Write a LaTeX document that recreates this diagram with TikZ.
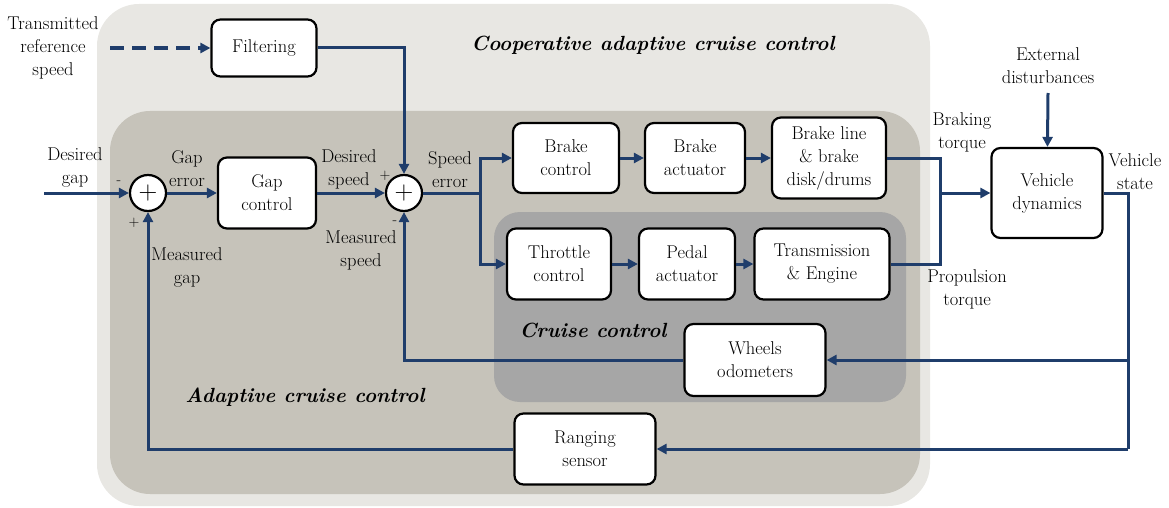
\documentclass[tikz,border=0pt]{standalone}
\usetikzlibrary{arrows.meta}
\definecolor{navy}{HTML}{1F3D6B}
\definecolor{caccgray}{HTML}{E8E7E3}
\definecolor{accgray}{HTML}{C6C3BA}
\definecolor{ccgray}{HTML}{A6A6A6}
\tikzset{
  blk/.style={draw,line width=2.2pt,fill=white,rounded corners=9pt,align=center,inner sep=0pt},
  sumnode/.style={draw,circle,line width=2.2pt,fill=white,minimum size=36pt,inner sep=0pt,font=\fontsize{26}{26}\selectfont},
  lbl/.style={align=center,inner sep=0pt},
  sign/.style={inner sep=0pt,font=\fontsize{15}{16}\selectfont},
  title/.style={inner sep=0pt,font=\fontsize{20.5}{25}\selectfont\bfseries\itshape},
  wire/.style={navy,line width=3pt},
  flow/.style={wire,-{Triangle[length=10pt,width=10pt]}},
}
\begin{document}
\begin{tikzpicture}[x=1pt,y=-1pt,font=\fontsize{18.5}{23}\selectfont]
\useasboundingbox (0,0) rectangle (1169,508);
%% nested control loops
\fill[caccgray,rounded corners=42pt] (97,4) rectangle (930,506);
\fill[accgray,rounded corners=40pt] (110,111) rectangle (920,494);
\fill[ccgray,rounded corners=26pt] (494,212) rectangle (906,402);
\node[title] at (653,45) {Cooperative adaptive cruise control};
\node[title] at (593,330) {Cruise control};
\node[title] at (305,397) {Adaptive cruise control};
%% blocks
\node[blk,minimum width=105pt,minimum height=57pt] (filt) at (264,48) {Filtering};
\node[sumnode] (sum1) at (148,193) {+};
\node[sumnode] (sum2) at (404,193) {+};
\node[blk,minimum width=98pt,minimum height=71pt] (gapc) at (267,193) {Gap\\control};
\node[blk,minimum width=106pt,minimum height=70pt] (brakec) at (566,158) {Brake\\control};
\node[blk,minimum width=100pt,minimum height=70pt] (brakea) at (695,158) {Brake\\actuator};
\node[blk,minimum width=114pt,minimum height=81pt] (brakel) at (829,158) {Brake line\\\& brake\\disk/drums};
\node[blk,minimum width=104pt,minimum height=71pt] (throttle) at (559,264) {Throttle\\control};
\node[blk,minimum width=96pt,minimum height=71pt] (pedal) at (687,264) {Pedal\\actuator};
\node[blk,minimum width=135pt,minimum height=71pt] (trans) at (822,264) {Transmission\\\& Engine};
\node[blk,minimum width=111pt,minimum height=90pt] (veh) at (1047,193) {Vehicle\\dynamics};
\node[blk,minimum width=141pt,minimum height=72pt] (wheel) at (755,360) {Wheels\\odometers};
\node[blk,minimum width=141pt,minimum height=71pt] (rang) at (585,449) {Ranging\\sensor};
%% labels
\node[lbl] (ltrans) at (53,48) {Transmitted\\reference\\speed};
\node[lbl] at (75,167) {Desired\\gap};
\node[lbl] at (187,169) {Gap\\error};
\node[lbl] at (349,169) {Desired\\speed};
\node[lbl] at (450,170) {Speed\\error};
\node[lbl] at (361,250) {Measured\\speed};
\node[lbl] at (187,267) {Measured\\gap};
\node[lbl] at (962,132) {Braking\\torque};
\node[lbl] at (967,289) {Propulsion\\torque};
\node[lbl] at (1048,66) {External\\disturbances};
\node[lbl] at (1135,172) {Vehicle\\state};
\node[sign] at (119,183) {-};
\node[sign] at (134,223) {+};
\node[sign] at (385,176) {+};
\node[sign] at (395,223) {-};
%% free ends and junctions
\coordinate (tin) at (110,48);
\coordinate (gin) at (44,193);
\coordinate (split) at (480,193);
\coordinate (tj) at (940,193);
\coordinate (ext) at (1048,93);
\coordinate (wj) at (1128,360);
\coordinate (fb) at (1128,449);
%% connectors
\draw[flow,dash pattern=on 14pt off 8pt,line width=3.5pt] (tin) -- (filt);
\draw[flow] (filt) -| (sum2);
\draw[flow] (gin) -- (sum1);
\draw[flow] (sum1) -- (gapc);
\draw[flow] (gapc) -- (sum2);
\draw[wire] (sum2) -- (split);
\draw[flow] (split) |- (brakec);
\draw[flow] (split) |- (throttle);
\draw[flow] (brakec) -- (brakea);
\draw[flow] (brakea) -- (brakel);
\draw[flow] (throttle) -- (pedal);
\draw[flow] (pedal) -- (trans);
\draw[wire] (brakel) -| (tj) |- (trans);
\draw[flow] (tj) -- (veh);
\draw[flow] (ext) -- (veh);
\draw[wire] (veh) -| (fb);
\draw[flow] (wj) -- (wheel);
\draw[flow] (fb) -- (rang);
\draw[flow] (wheel) -| (sum2);
\draw[flow] (rang) -| (sum1);
\end{tikzpicture}
\end{document}
